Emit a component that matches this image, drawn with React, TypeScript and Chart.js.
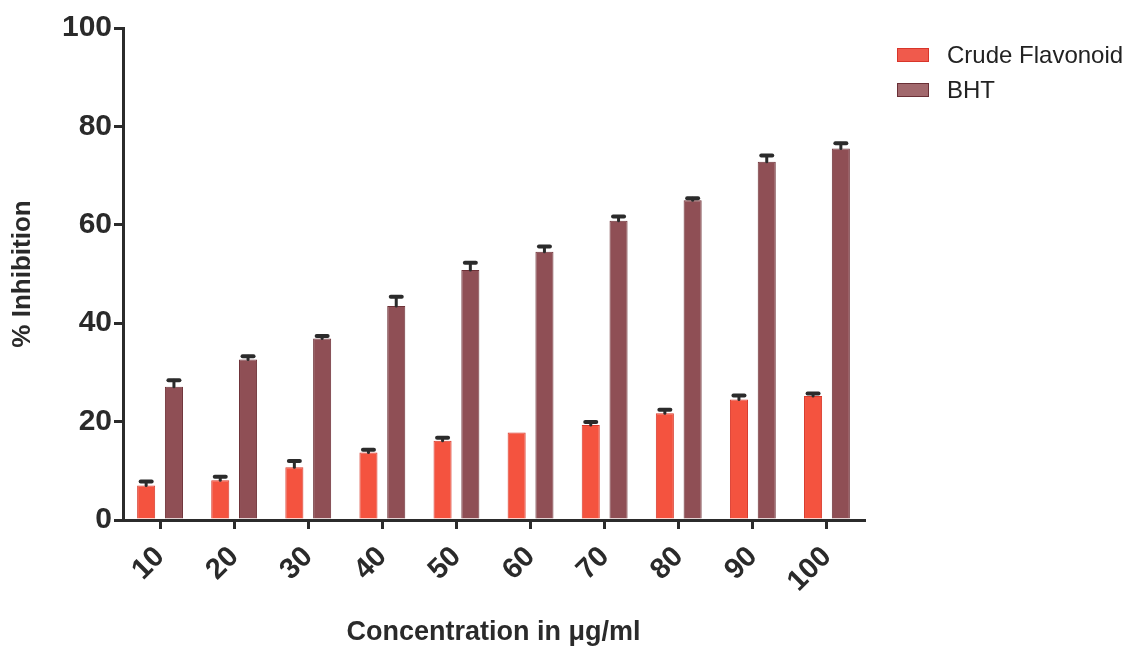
import React, { useEffect, useRef } from "react";
import { Chart, registerables } from "chart.js";

Chart.register(...registerables);

const categories = ["10", "20", "30", "40", "50", "60", "70", "80", "90", "100"];
const crudeValues = [7.0, 8.1, 10.7, 13.7, 16.1, 17.8, 19.3, 21.7, 24.5, 25.2];
const crudeErrors = [0.8, 0.7, 1.3, 0.6, 0.6, 0, 0.6, 0.7, 0.8, 0.5];
const bhtValues = [27.1, 32.6, 36.9, 43.5, 50.8, 54.5, 60.8, 65.0, 72.8, 75.5];
const bhtErrors = [1.3, 0.7, 0.5, 1.9, 1.5, 1.1, 0.9, 0.4, 1.3, 1.1];
const seriesLabels = ["Crude Flavonoid", "BHT"];
const yTicks = [0, 20, 40, 60, 80, 100];

const FONT = "'Liberation Sans', Arial, Helvetica, sans-serif";
const AXIS = "#2b2b2b";
const CRUDE_COLOR = "#f4533f";
const CRUDE_BORDER = "#d83a2c";
const BHT_COLOR = "#8f4f55";
const BHT_BORDER = "#6e3238";

const errorBarPlugin = {
  id: "errorBars",
  afterDatasetsDraw(chart: any) {
    const ctx = chart.ctx;
    const yScale = chart.scales.y;
    chart.data.datasets.forEach((ds: any, di: number) => {
      const meta = chart.getDatasetMeta(di);
      const errs: number[] = ds.errors || [];
      meta.data.forEach((bar: any, i: number) => {
        const e = errs[i];
        if (!e) return;
        const v = ds.data[i];
        const yTop = yScale.getPixelForValue(v + e);
        const yBase = yScale.getPixelForValue(v);
        ctx.save();
        ctx.strokeStyle = AXIS;
        ctx.lineCap = "round";
        ctx.lineWidth = 3;
        ctx.beginPath();
        ctx.moveTo(bar.x, yBase);
        ctx.lineTo(bar.x, yTop);
        ctx.stroke();
        ctx.lineWidth = 4;
        ctx.beginPath();
        ctx.moveTo(bar.x - 5.5, yTop);
        ctx.lineTo(bar.x + 5.5, yTop);
        ctx.stroke();
        ctx.restore();
      });
    });
  },
};

const legendPlugin = {
  id: "customLegend",
  afterDraw(chart: any) {
    const ctx = chart.ctx;
    const x0 = 897;
    const y0 = 48;
    const step = 35;
    ctx.save();
    chart.data.datasets.forEach((ds: any, i: number) => {
      const y = y0 + i * step;
      ctx.fillStyle = i === 0 ? "#f05a4c" : "#a2696d";
      ctx.fillRect(x0, y, 32, 14);
      ctx.strokeStyle = i === 0 ? "#d8352a" : "#6a3036";
      ctx.lineWidth = 1;
      ctx.strokeRect(x0 + 0.5, y + 0.5, 31, 13);
      ctx.fillStyle = "#222";
      ctx.font = `24px ${FONT}`;
      ctx.textBaseline = "middle";
      ctx.textAlign = "left";
      ctx.fillText(ds.label, 947, y + 8);
    });
    ctx.restore();
  },
};

export default function App() {
  const ref = useRef<HTMLCanvasElement | null>(null);

  useEffect(() => {
    if (!ref.current) return;
    const chart = new Chart(ref.current, {
      type: "bar",
      data: {
        labels: categories,
        datasets: [
          {
            label: seriesLabels[0],
            data: crudeValues,
            errors: crudeErrors,
            backgroundColor: CRUDE_COLOR,
            borderColor: CRUDE_BORDER,
            borderWidth: 1,
            categoryPercentage: 0.75,
            barPercentage: 0.65,
          } as any,
          {
            label: seriesLabels[1],
            data: bhtValues,
            errors: bhtErrors,
            backgroundColor: BHT_COLOR,
            borderColor: BHT_BORDER,
            borderWidth: 1,
            categoryPercentage: 0.75,
            barPercentage: 0.65,
          } as any,
        ],
      },
      options: {
        responsive: false,
        animation: false,
        layout: { padding: { top: 28, right: 266, bottom: 0, left: 0 } },
        plugins: {
          legend: { display: false },
          tooltip: { enabled: false },
          title: { display: false },
        },
        scales: {
          x: {
            offset: true,
            grid: {
              display: true,
              offset: false,
              drawOnChartArea: false,
              drawTicks: true,
              tickLength: 9,
              color: AXIS,
              lineWidth: 3,
            },
            border: { display: true, color: AXIS, width: 3 },
            ticks: {
              color: "#2a2a2a",
              font: { family: FONT, size: 29, weight: "bold" },
              minRotation: 45,
              maxRotation: 45,
              padding: 11,
            },
            title: {
              display: true,
              text: "Concentration in \u03bcg/ml",
              color: "#2a2a2a",
              font: { family: FONT, size: 27, weight: "bold" },
              padding: { top: 0, bottom: -3 },
            },
            afterFit(scale: any) {
              scale.height = 126;
            },
          },
          y: {
            min: 0,
            max: 100,
            afterBuildTicks(scale: any) {
              scale.ticks = yTicks.map((v) => ({ value: v }));
            },
            grid: {
              display: true,
              drawOnChartArea: false,
              drawTicks: true,
              tickLength: 9,
              color: AXIS,
              lineWidth: 3,
            },
            border: { display: true, color: AXIS, width: 3 },
            ticks: {
              color: "#2a2a2a",
              font: { family: FONT, size: 30, weight: "bold" },
              padding: 2,
            },
            title: {
              display: true,
              text: "% Inhibition",
              color: "#2a2a2a",
              font: { family: FONT, size: 26, weight: "bold" },
              padding: { top: 7, bottom: 0 },
            },
            afterFit(scale: any) {
              scale.width = 123;
            },
          },
        },
      },
      plugins: [errorBarPlugin, legendPlugin],
    });
    return () => chart.destroy();
  }, []);

  return (
    <div style={{ position: "absolute", left: 0, top: 0, width: 1130, height: 646, background: "#fff" }}>
      <canvas ref={ref} width={1130} height={646} style={{ display: "block" }} />
    </div>
  );
}
